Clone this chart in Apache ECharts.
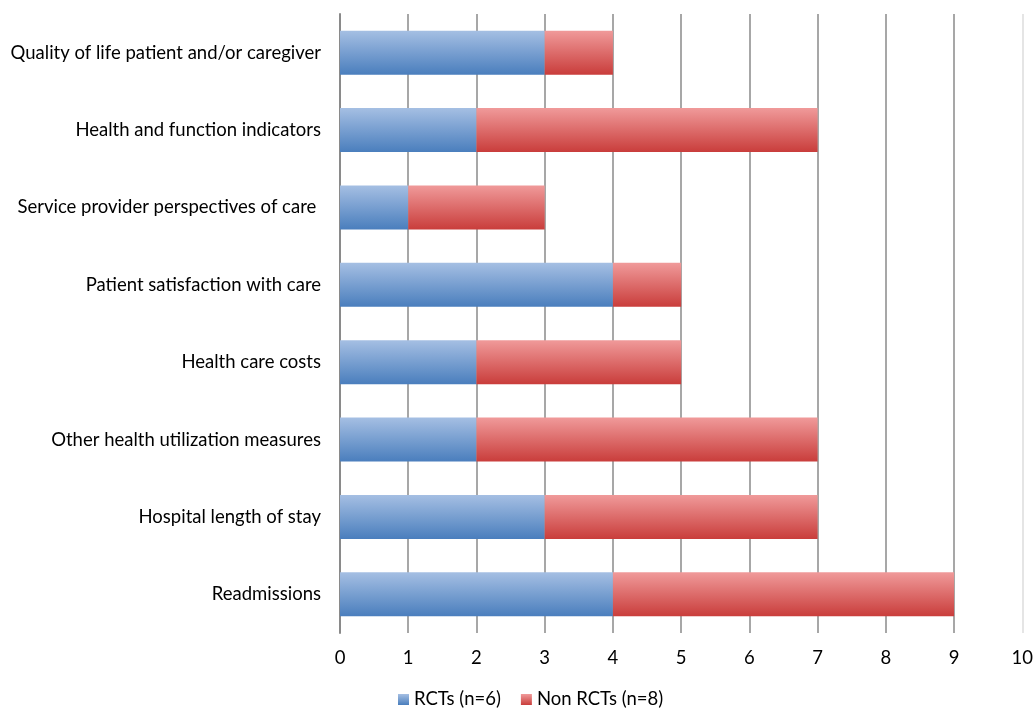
<!DOCTYPE html>
<html>
<head>
<meta charset="utf-8">
<script src="https://cdn.jsdelivr.net/npm/echarts@6/dist/echarts.min.js"></script>
<style>
  html, body { margin: 0; padding: 0; background: #fff; }
  #main { width: 1036px; height: 708px; }
</style>
</head>
<body>
<div id="main"></div>
<script>
var categories = [
  'Quality of life patient and/or caregiver',
  'Health and function indicators',
  'Service provider perspectives of care ',
  'Patient satisfaction with care',
  'Health care costs',
  'Other health utilization measures',
  'Hospital length of stay',
  'Readmissions'
];
var rcts = [3, 2, 1, 4, 2, 2, 3, 4];
var nonRcts = [1, 5, 2, 1, 3, 5, 4, 5];

var FONT = 'Lato';
var FS = 18.5;

function grad(top, bottom) {
  return new echarts.graphic.LinearGradient(0, 0, 0, 1, [
    { offset: 0, color: top },
    { offset: 1, color: bottom }
  ]);
}

var chart = echarts.init(document.getElementById('main'));
var option = {
  animation: false,
  textStyle: { fontFamily: FONT },
  grid: { left: 340, right: 10, top: 14, bottom: 75 },
  legend: {
    left: 393,
    top: 685,
    itemWidth: 11,
    itemHeight: 11,
    itemGap: 20,
    icon: 'rect',
    textStyle: { fontFamily: FONT, fontSize: FS, color: '#000' },
    data: ['RCTs (n=6)', 'Non RCTs (n=8)']
  },
  xAxis: {
    type: 'value',
    min: 0,
    max: 10,
    interval: 1,
    axisLine: { show: false },
    axisTick: { show: false },
    axisLabel: { fontFamily: FONT, fontSize: FS, color: '#000', margin: 16 },
    splitLine: {
      show: true,
      lineStyle: {
        color: ['#8a8a8a', '#8a8a8a', '#8a8a8a', '#8a8a8a', '#8a8a8a',
                '#8a8a8a', '#8a8a8a', '#8a8a8a', '#8a8a8a', '#8a8a8a', '#dcdcdc'],
        width: 1.5
      }
    }
  },
  yAxis: {
    type: 'category',
    inverse: true,
    data: categories,
    axisLine: { show: true, lineStyle: { color: '#8a8a8a', width: 2 } },
    axisTick: { show: false },
    axisLabel: { fontFamily: FONT, fontSize: FS, color: '#000', margin: 19 }
  },
  series: [
    {
      name: 'RCTs (n=6)',
      type: 'bar',
      stack: 'total',
      barWidth: '57%',
      itemStyle: { color: grad('#a5bfe3', '#4a7ebd') },
      data: rcts
    },
    {
      name: 'Non RCTs (n=8)',
      type: 'bar',
      stack: 'total',
      barWidth: '57%',
      itemStyle: { color: grad('#f09a9a', '#c93d3b') },
      data: nonRcts
    }
  ]
};
chart.setOption(option);
</script>
</body>
</html>
